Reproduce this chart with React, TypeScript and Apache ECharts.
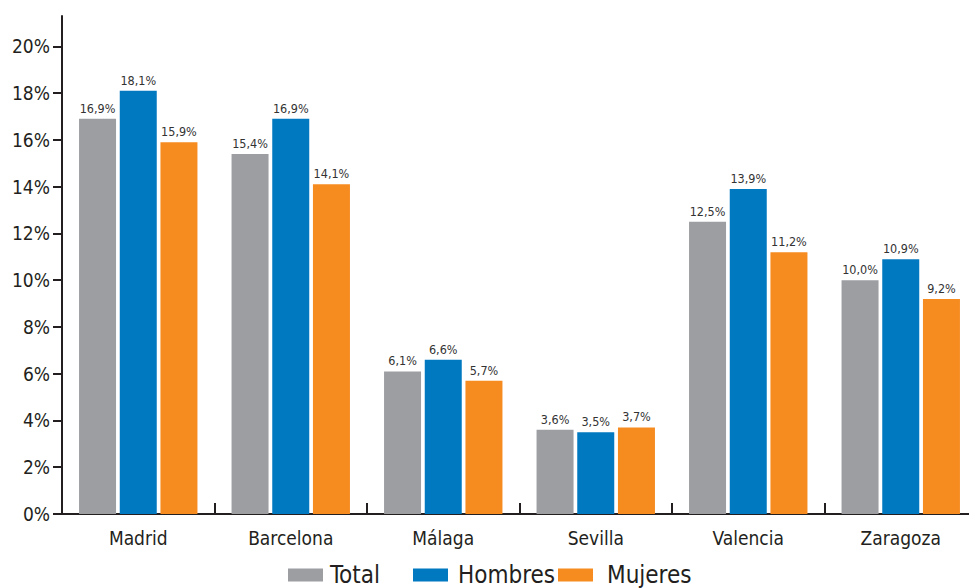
import React, { useEffect, useRef } from "react";
import * as echarts from "echarts";

const categories = ["Madrid", "Barcelona", "Málaga", "Sevilla", "Valencia", "Zaragoza"];
const totalValues = [16.9, 15.4, 6.1, 3.6, 12.5, 10.0];
const hombresValues = [18.1, 16.9, 6.6, 3.5, 13.9, 10.9];
const mujeresValues = [15.9, 14.1, 5.7, 3.7, 11.2, 9.2];
const seriesNames = ["Total", "Hombres", "Mujeres"];
const seriesColors = ["#9d9ea2", "#0079c1", "#f68b1f"];

const FONT = "'DejaVu Sans Condensed', 'Liberation Sans Narrow', 'DejaVu Sans', sans-serif";
const fmt = (v: number) => v.toFixed(1).replace(".", ",") + "%";

export default function App() {
  const ref = useRef<HTMLDivElement>(null);
  useEffect(() => {
    if (!ref.current) return;
    const chart = echarts.init(ref.current, undefined, { renderer: "svg" });
    const data = [totalValues, hombresValues, mujeresValues];
    const legendLefts = [288, 413, 558];
    const legendTextPads = [2, 5, 9];
    chart.setOption({
      animation: false,
      backgroundColor: "#ffffff",
      grid: { left: 62, top: 16, bottom: 74, width: 915, containLabel: false, outerBoundsMode: "none" },
      legend: seriesNames.map((n, i) => ({
        data: [n],
        left: legendLefts[i],
        top: 563,
        padding: 0,
        itemWidth: 35,
        itemHeight: 13,
        icon: "rect",
        textStyle: { fontFamily: FONT, fontSize: 24, color: "#231f20", padding: [0, 0, 6, legendTextPads[i]] },
        selectedMode: false,
      })),
      xAxis: {
        type: "category",
        data: categories,
        axisLine: { show: true, lineStyle: { color: "#231f20", width: 2 } },
        axisTick: { show: true, inside: true, length: 11, alignWithLabel: false, lineStyle: { color: "#231f20", width: 2 } },
        axisLabel: { fontFamily: FONT, fontSize: 19, color: "#231f20", margin: 14 },
        splitLine: { show: false },
      },
      yAxis: {
        type: "value",
        min: 0,
        max: 21.3,
        interval: 2,
        axisLine: { show: true, lineStyle: { color: "#231f20", width: 2 } },
        axisTick: { show: true, length: 9, lineStyle: { color: "#231f20", width: 2 } },
        axisLabel: {
          fontFamily: FONT,
          fontSize: 19,
          color: "#231f20",
          margin: 12,
          showMaxLabel: false,
          formatter: (v: number) => (Math.abs(v % 2) < 1e-6 ? `${v}%` : ""),
        },
        splitLine: { show: false },
      },
      series: seriesNames.map((n, i) => ({
        name: n,
        type: "bar",
        data: data[i],
        barWidth: 37,
        barGap: "10%",
        itemStyle: { color: seriesColors[i] },
        label: {
          show: true,
          position: "top",
          distance: 4,
          fontFamily: FONT,
          fontSize: 12.5,
          color: "#333333",
          formatter: (p: any) => fmt(p.value),
        },
      })),
    });
    return () => chart.dispose();
  }, []);
  return <div ref={ref} style={{ position: "fixed", left: 0, top: 0, width: 969, height: 588 }} />;
}
